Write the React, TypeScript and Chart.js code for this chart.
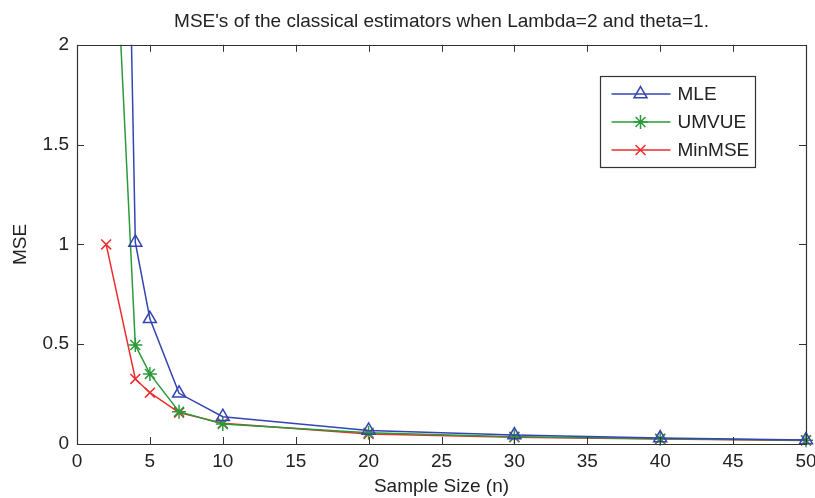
import React, { useEffect, useRef } from "react";
import { Chart, registerables } from "chart.js";
import { drawPoint } from "chart.js/helpers";

Chart.register(...registerables);

const sampleSizes = [2, 4, 5, 7, 10, 20, 30, 40, 50];
const mleValues = [8.6, 1.01, 0.627, 0.254, 0.137, 0.068, 0.045, 0.03, 0.02];
const umvueValues = [3.53, 0.496, 0.351, 0.162, 0.1, 0.056, 0.036, 0.026, 0.019];
const minmseValues = [1.0, 0.326, 0.257, 0.157, 0.104, 0.05, 0.034, 0.025, 0.018];
const seriesNames = ["MLE", "UMVUE", "MinMSE"];
const xTicks = [0, 5, 10, 15, 20, 25, 30, 35, 40, 45, 50];
const yTicks = [0, 0.5, 1, 1.5, 2];

const FONT = '"Liberation Sans", Arial, Helvetica, sans-serif';
const BLUE = "#3444b2";
const GREEN = "#2a9a3a";
const RED = "#ee2b2b";
const AXIS = "#333333";

const boxPlugin = {
  id: "matlabBox",
  afterDraw(chart: any) {
    const { ctx, chartArea } = chart;
    const { left, right, top, bottom } = chartArea;
    const xs = chart.scales.x;
    const ys = chart.scales.y;
    const tl = 7;
    ctx.save();
    ctx.strokeStyle = AXIS;
    ctx.lineWidth = 1.2;
    ctx.beginPath();
    ctx.rect(Math.round(left) + 0.5, Math.round(top) + 0.5, Math.round(right - left), Math.round(bottom - top));
    ctx.stroke();
    ctx.lineWidth = 1;
    ctx.beginPath();
    xTicks.forEach((v) => {
      const px = Math.round(xs.getPixelForValue(v)) + 0.5;
      ctx.moveTo(px, bottom);
      ctx.lineTo(px, bottom - tl);
      ctx.moveTo(px, top);
      ctx.lineTo(px, top + tl);
    });
    yTicks.forEach((v) => {
      const py = Math.round(ys.getPixelForValue(v)) + 0.5;
      ctx.moveTo(left, py);
      ctx.lineTo(left + tl, py);
      ctx.moveTo(right, py);
      ctx.lineTo(right - tl, py);
    });
    ctx.stroke();

    // legend
    const bx = Math.round(right - 206) + 0.5;
    const by = Math.round(top + 31) + 0.5;
    const bw = 155;
    const bh = 91;
    ctx.fillStyle = "#ffffff";
    ctx.fillRect(bx, by, bw, bh);
    ctx.strokeStyle = AXIS;
    ctx.lineWidth = 1.2;
    ctx.strokeRect(bx, by, bw, bh);
    const ds = chart.data.datasets;
    ctx.font = `19px ${FONT}`;
    ctx.textBaseline = "middle";
    ctx.textAlign = "left";
    ds.forEach((d: any, i: number) => {
      const y = by + 17.5 + i * 28;
      ctx.strokeStyle = d.borderColor;
      ctx.lineWidth = 1.5;
      ctx.beginPath();
      ctx.moveTo(bx + 11, y);
      ctx.lineTo(bx + 70, y);
      ctx.stroke();
      ctx.fillStyle = d.pointBackgroundColor;
      ctx.strokeStyle = d.borderColor;
      ctx.lineWidth = d.pointBorderWidth;
      drawPoint(ctx, { pointStyle: d.pointStyle, radius: d.pointRadius, borderWidth: d.pointBorderWidth, rotation: 0 }, bx + 40, y);
      ctx.fillStyle = "#222222";
      ctx.fillText(d.label, bx + 77, y + 1);
    });
    ctx.restore();
  },
};

export default function App() {
  const ref = useRef<HTMLCanvasElement | null>(null);
  useEffect(() => {
    if (!ref.current) return;
    const mk = (vals: number[]) => sampleSizes.map((n, i) => ({ x: n, y: vals[i] }));
    const clip = { left: 14, right: 14, top: 0, bottom: 14 };
    const chart = new Chart(ref.current, {
      type: "line",
      data: {
        datasets: [
          {
            label: seriesNames[0],
            data: mk(mleValues),
            borderColor: BLUE,
            borderWidth: 1.5,
            pointStyle: "triangle",
            pointRadius: 7.5,
            pointBorderWidth: 1.5,
            pointBackgroundColor: "rgba(255,255,255,0)",
            pointBorderColor: BLUE,
            clip,
          } as any,
          {
            label: seriesNames[1],
            data: mk(umvueValues),
            borderColor: GREEN,
            borderWidth: 1.5,
            pointStyle: "star",
            pointRadius: 7,
            pointBorderWidth: 1.5,
            pointBackgroundColor: GREEN,
            pointBorderColor: GREEN,
            clip,
          } as any,
          {
            label: seriesNames[2],
            data: mk(minmseValues),
            borderColor: RED,
            borderWidth: 1.5,
            pointStyle: "crossRot",
            pointRadius: 7,
            pointBorderWidth: 1.5,
            pointBackgroundColor: RED,
            pointBorderColor: RED,
            clip,
          } as any,
        ],
      },
      options: {
        responsive: false,
        animation: false,
        devicePixelRatio: 1,
        layout: { padding: { left: 0, right: 0, top: 0, bottom: 0 } },
        elements: { line: { tension: 0 } },
        plugins: {
          legend: { display: false },
          tooltip: { enabled: false },
          title: {
            display: true,
            text: "MSE's of the classical estimators when Lambda=2 and theta=1.",
            fullSize: false,
            color: "#222222",
            font: { family: FONT, size: 19, weight: "normal" },
            padding: { top: 10, bottom: 12 },
          },
        },
        scales: {
          x: {
            type: "linear",
            min: 0,
            max: 50,
            afterFit: (s: any) => {
              s.height = 54;
              s.paddingLeft = 0;
              s.paddingRight = 9;
            },
            afterBuildTicks: (s: any) => {
              s.ticks = xTicks.map((v) => ({ value: v }));
            },
            grid: { display: false, drawTicks: false },
            border: { display: false },
            ticks: {
              color: "#222222",
              padding: 6,
              font: { family: FONT, size: 19 },
              maxRotation: 0,
              autoSkip: false,
              callback: (v: any) => String(v),
            },
            title: {
              display: true,
              text: "Sample Size (n)",
              color: "#222222",
              font: { family: FONT, size: 19 },
              padding: { top: 0, bottom: 0 },
            },
          },
          y: {
            type: "linear",
            min: 0,
            max: 2,
            afterFit: (s: any) => {
              s.width = 77;
            },
            afterBuildTicks: (s: any) => {
              s.ticks = yTicks.map((v) => ({ value: v }));
            },
            grid: { display: false, drawTicks: false },
            border: { display: false },
            ticks: {
              color: "#222222",
              padding: 8,
              font: { family: FONT, size: 19 },
              autoSkip: false,
              callback: (v: any) => String(v),
            },
            title: {
              display: true,
              text: "MSE",
              color: "#222222",
              font: { family: FONT, size: 19 },
              padding: { top: 9, bottom: 0 },
            },
          },
        },
      },
      plugins: [boxPlugin],
    });
    return () => chart.destroy();
  }, []);
  return (
    <div style={{ position: "absolute", left: 0, top: 0, width: 815, height: 498, background: "#fff" }}>
      <canvas ref={ref} width={815} height={498} />
    </div>
  );
}
